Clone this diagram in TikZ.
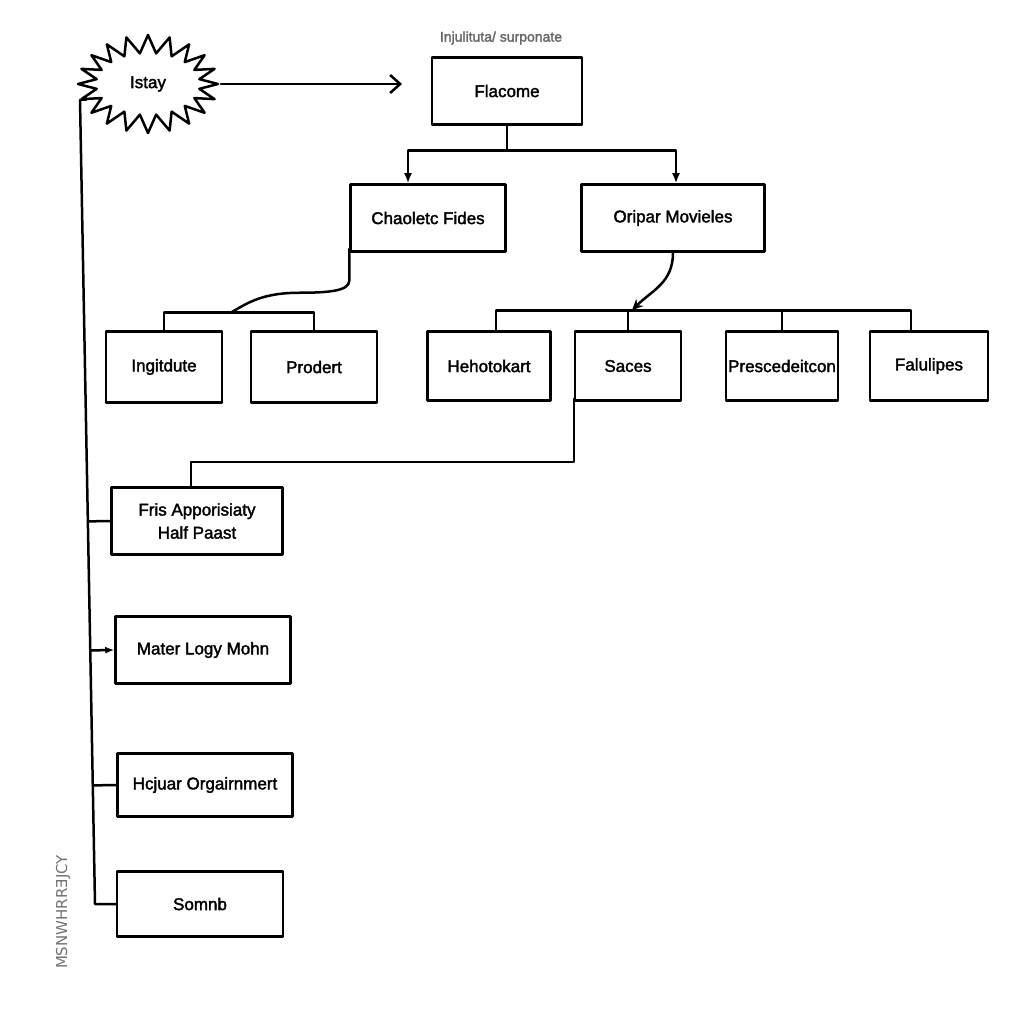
\documentclass[tikz,border=0pt]{standalone}
\usepackage{fontspec}
\setmainfont{Liberation Sans}[FakeBold=2]
\newfontfamily\markfont{DejaVu Sans}
\usetikzlibrary{shapes.symbols,arrows.meta,calc}
\begin{document}
\begin{tikzpicture}[x=1pt,y=-1pt,line width=2.5pt,line cap=round,line join=round,
  box/.style={draw,rectangle,minimum width=#1,font=\fontsize{17}{23}\selectfont,align=center,inner sep=0pt},
  box/.default=120pt,
  fill arrow/.style={-{Latex[length=10pt,width=8pt]}},
  open arrow/.style={-{Straight Barb[length=10pt,width=18pt,line width=2.5pt]}}]
\useasboundingbox (0,0) rectangle (1024,1024);
\fill[white] (0,0) rectangle (1024,1024);
% top
\node[draw,starburst,starburst points=20,starburst point height=18pt,random starburst=0,
  minimum width=140pt,minimum height=98pt,font=\fontsize{17}{20}\selectfont,inner sep=0pt] (ist) at (148,84) {Istay};
\node[font=\fontsize{14}{16}\selectfont,text=black!60] (lab) at (501,38) {Injulituta/ surponate};
\node[box=150pt,minimum height=67pt] (fla) at (507,91) {Flacome};
\coordinate (arr) at (402,84);
\draw[open arrow] (221,84) coordinate (istE) -- (arr);
% second row
\node[box=155pt,minimum height=67pt] (cha) at (428,218) {Chaoletc Fides};
\node[box=183pt,minimum height=67pt] (ori) at (673,218) {Oripar Movieles};
\draw (fla.south) -- ++(0,25) coordinate (j1);
\draw[fill arrow] (j1) -| ([xshift=-20pt]cha.north);
\draw[fill arrow] (j1) -| ([xshift=3pt]ori.north);
% third row
\node[box=116pt,minimum height=71pt] (ing) at (164,367) {Ingitdute};
\node[box=126pt,minimum height=71pt] (pro) at (314,367) {Prodert};
\node[box=123pt,minimum height=69pt] (heh) at (489,366) {Hehotokart};
\node[box=106pt,minimum height=69pt] (sac) at (628,366) {Saces};
\node[box=112pt,minimum height=69pt] (pre) at (782,366) {Prescedeitcon};
\node[box=118pt,minimum height=69pt] (fal) at (929,366) {Falulipes};
% left pair
\draw (ing.north) -- ++(0,-18) coordinate (b1) -| (pro.north);
\coordinate (b1m) at (230,313);
\draw ([yshift=4pt]cha.south west) -- ++(0,32) .. controls +(0,10) and +(30,0) .. ++(-50,12)
  .. controls +(-40,0) and +(15,-8) .. (b1m);
% right four
\draw ([xshift=7pt]heh.north) -- ++(0,-20) coordinate (b2) -| ([xshift=-18pt]fal.north);
\draw (sac.north) -- ++(0,-20) coordinate (b2s);
\draw (pre.north) -- ++(0,-20);
\draw[-{Stealth[length=11pt,width=10pt]}] (ori.south) .. controls +(0,30) and +(20,-20) .. ([xshift=4pt]b2s);
% left column
\node[box=171pt,minimum height=67pt] (fri) at (197,521) {Fris Apporisiaty\\Half Paast};
\node[box=175pt,minimum height=67pt] (mat) at (203,650) {Mater Logy Mohn};
\node[box=175pt,minimum height=63pt] (hcj) at (205,785) {Hcjuar Orgairnmert};
\node[box=166pt,minimum height=65pt] (som) at (200,904) {Somnb};
\draw ([yshift=3pt]sac.south west) -- ++(0,63) -| ([xshift=-6pt]fri.north);
% spine
\coordinate (s0) at (80,100);
\coordinate (s1) at (95,904);
\draw (s0) -- ++(6,0);
\draw (s0) -- (s1) -- (som.west);
\coordinate (p1) at ($(s0)!(fri.west)!(s1)$);
\coordinate (p2) at ($(s0)!(mat.west)!(s1)$);
\coordinate (p3) at ($(s0)!(hcj.west)!(s1)$);
\draw (p1) -- (fri.west);
\draw[-{Latex[length=9pt,width=7pt]}] (p2) -- (mat.west);
\draw (p3) -- (hcj.west);
% side mark
\node[rotate=90,font=\markfont\fontsize{15}{17}\selectfont,text=black!55] (mark) at (63,912) {MSNWHRRƎJCY};
\end{tikzpicture}
\end{document}
